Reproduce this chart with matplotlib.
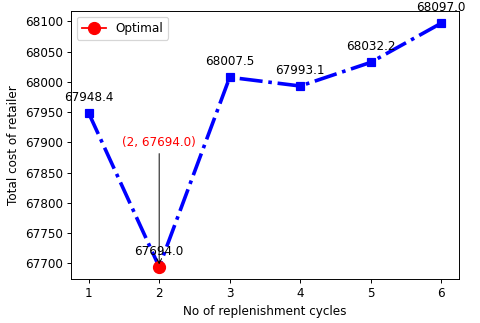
import matplotlib
matplotlib.use("Agg")
import matplotlib.pyplot as plt

cycles = [1, 2, 3, 4, 5, 6]
costs = [67948.4, 67694.0, 68007.5, 67993.1, 68032.2, 68097.0]
opt_x = 2
opt_y = 67694.0
opt_label_y = 67900

DPI = 86.4
fig = plt.figure(figsize=(480/DPI, 323/DPI), dpi=DPI)
ax = fig.add_axes([0.148, 0.136, 0.808, 0.830])
ax.plot(cycles, costs, color='blue', linestyle='-.', linewidth=3, marker='s', markersize=6)
for x, y in zip(cycles, costs):
    ax.annotate(f"{y}", (x, y), textcoords='offset points', xytext=(0, 10), ha='center', fontsize=10)
ax.plot(opt_x, opt_y, marker='o', color='red', markersize=10, label='Optimal')
ax.annotate(f"({opt_x}, {opt_y})", xy=(opt_x, opt_y), xytext=(opt_x, opt_label_y),
            ha='center', va='center', color='red', fontsize=10,
            arrowprops=dict(arrowstyle='->', color='black', lw=0.8))
ax.set_xlabel('No of replenishment cycles')
ax.set_ylabel('Total cost of retailer')
ax.legend(loc='upper left')
fig.savefig('out.png', dpi=DPI)
